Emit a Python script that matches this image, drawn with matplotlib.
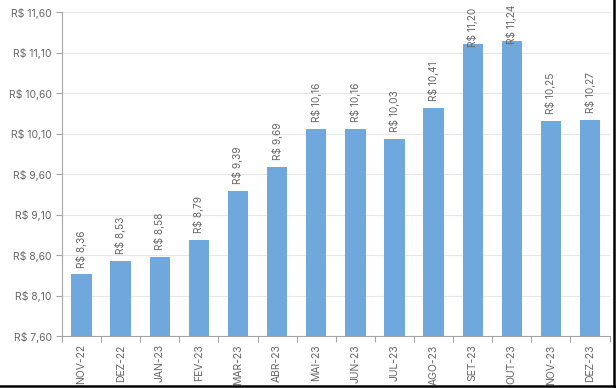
import numpy as np
import matplotlib.pyplot as plt
from matplotlib.lines import Line2D

#Data
months = ["NOV-22", "DEZ-22", "JAN-23", "FEV-23", "MAR-23", "ABR-23", "MAI-23",
          "JUN-23", "JUL-23", "AGO-23", "SET-23", "OUT-23", "NOV-23", "DEZ-23"]
prices = [8.36, 8.53, 8.58, 8.79, 9.39, 9.69, 10.16,
          10.16, 10.03, 10.41, 11.20, 11.24, 10.25, 10.27]
yticks = [7.60, 8.10, 8.60, 9.10, 9.60, 10.10, 10.60, 11.10, 11.60]

def brl(v):
    return "R$ " + f"{v:.2f}".replace(".", ",")

plt.rcParams['font.family'] = ['Inter', 'DejaVu Sans']
text_color = '#666666'

fig = plt.figure(figsize=(6.16, 3.88), dpi=100)
ax = fig.add_axes([0.1006, 0.134, 0.889, 0.835])

x = np.arange(len(months))
bars = ax.bar(x, prices, width=0.52, color='#6fa8dc', zorder=3)

#Value labels above bars (the tallest ones are pushed down to stay in the picture)
for xi, v in zip(x, prices):
    off = 5 if v < 11 else -2
    ax.annotate(brl(v), (xi, v), xytext=(0, off), textcoords='offset points',
                rotation=90, ha='center', va='bottom', fontsize=7.3,
                color=text_color, annotation_clip=False, clip_on=False, zorder=4)

ax.set_ylim(7.60, 11.60)
ax.set_yticks(yticks)
ax.set_yticklabels([brl(t) for t in yticks], fontsize=7.5, color=text_color)
ax.set_xlim(-0.5, len(months) - 0.5)
ax.set_xticks(x)
ax.set_xticklabels(months, rotation=90, fontsize=7.5, color=text_color)
ax.tick_params(axis='x', length=0, pad=6)
ax.tick_params(axis='y', length=4, color='#a6a6a6', width=0.8)

#Category separators as ticks on x axis
ax.set_xticks(np.arange(-0.5, len(months)), minor=True)
ax.tick_params(axis='x', which='minor', length=4, color='#a6a6a6', width=0.8)

ax.grid(axis='y', color='#e6e6e6', linewidth=0.8, zorder=0)
for s in ['top', 'right']:
    ax.spines[s].set_visible(False)
for s in ['left', 'bottom']:
    ax.spines[s].set_color('#a6a6a6')
    ax.spines[s].set_linewidth(0.8)

#Dark frame on bottom and right edges
fig.add_artist(Line2D([0, 1], [0.004, 0.004], transform=fig.transFigure, color='black', linewidth=1.8))
fig.add_artist(Line2D([0.997, 0.997], [0, 1], transform=fig.transFigure, color='black', linewidth=1.8))

fig.savefig("out.png", dpi=100)
